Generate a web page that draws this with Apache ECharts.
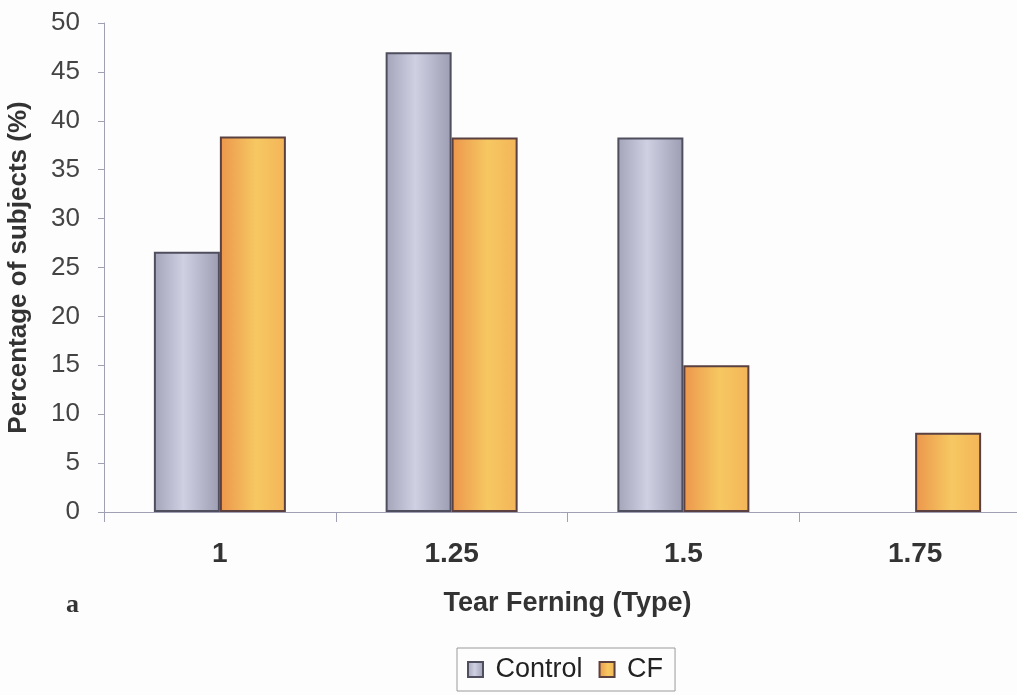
<!DOCTYPE html>
<html>
<head>
<meta charset="utf-8">
<script src="https://cdn.jsdelivr.net/npm/echarts@6/dist/echarts.min.js"></script>
<style>
html,body{margin:0;padding:0;background:#fdfdfe;}
#chart{width:1017px;height:695px;}
</style>
</head>
<body>
<div id="chart"></div>
<script>
const categories = ['1', '1.25', '1.5', '1.75'];
const controlValues = [26.6, 47.0, 38.3, 0];
const cfValues = [38.4, 38.3, 15.0, 8.1];
const yTicks = [0, 5, 10, 15, 20, 25, 30, 35, 40, 45, 50];
const seriesNames = ['Control', 'CF'];

const chart = echarts.init(document.getElementById('chart'));

const controlGrad = new echarts.graphic.LinearGradient(0, 0, 1, 0, [
  {offset: 0, color: '#a3a4b8'},
  {offset: 0.45, color: '#cfd0e2'},
  {offset: 1, color: '#9c9db2'}
]);
const cfGrad = new echarts.graphic.LinearGradient(0, 0, 1, 0, [
  {offset: 0, color: '#ec964c'},
  {offset: 0.55, color: '#f6c862'},
  {offset: 1, color: '#f4b458'}
]);

function barData(values) {
  return values.map(function (v) {
    return v === 0 ? {value: v, itemStyle: {borderWidth: 0, opacity: 0}} : v;
  });
}

chart.setOption({
  backgroundColor: '#fdfdfe',
  animation: false,
  textStyle: {fontFamily: 'Liberation Sans, Arial, sans-serif'},
  grid: {left: 104, width: 927, top: 23, height: 489, outerBoundsMode: 'none', containLabel: false},
  legend: {
    data: seriesNames,
    left: 457, top: 648,
    orient: 'horizontal',
    icon: 'rect',
    itemWidth: 15, itemHeight: 15, itemGap: 16,
    padding: [8, 12, 8, 10],
    borderColor: '#9a9a9a', borderWidth: 1,
    formatter: function (n) { return ' ' + n; },
    textStyle: {fontSize: 27, color: '#222', fontFamily: 'Liberation Sans, Arial, sans-serif'}
  },
  xAxis: {
    type: 'category',
    data: categories,
    name: 'Tear Ferning (Type)',
    nameLocation: 'middle',
    nameGap: 78,
    nameTextStyle: {fontSize: 27, fontWeight: 'bold', color: '#333'},
    axisLine: {lineStyle: {color: '#a0a0b4', width: 1}},
    axisTick: {show: true, length: 10, lineStyle: {color: '#a0a0b4'}},
    axisLabel: {fontSize: 28, fontWeight: 'bold', color: '#333', margin: 28}
  },
  yAxis: {
    type: 'value',
    min: 0, max: 50, interval: 5,
    name: 'Percentage of subjects (%)',
    nameLocation: 'middle',
    nameGap: 72,
    nameTextStyle: {fontSize: 26, fontWeight: 'bold', color: '#333'},
    axisLine: {show: true, lineStyle: {color: '#a0a0b4', width: 1}},
    axisTick: {show: true, length: 6, lineStyle: {color: '#a0a0b4'}},
    splitLine: {show: false},
    axisLabel: {fontSize: 26, color: '#444', margin: 24,
      formatter: function (v) { return yTicks.indexOf(v) >= 0 ? String(v) : ''; }}
  },
  series: [
    {
      name: seriesNames[0], type: 'bar', data: barData(controlValues),
      barWidth: 66, barGap: '0%',
      itemStyle: {color: controlGrad, borderColor: '#4e4e5e', borderWidth: 2}
    },
    {
      name: seriesNames[1], type: 'bar', data: barData(cfValues),
      barWidth: 66,
      itemStyle: {color: cfGrad, borderColor: '#5a4040', borderWidth: 2}
    }
  ],
  graphic: [
    {type: 'text', left: 66, top: 592,
     style: {text: 'a', font: 'bold 26px "Liberation Serif", "DejaVu Serif", serif', fill: '#333'}}
  ]
});
</script>
</body>
</html>
